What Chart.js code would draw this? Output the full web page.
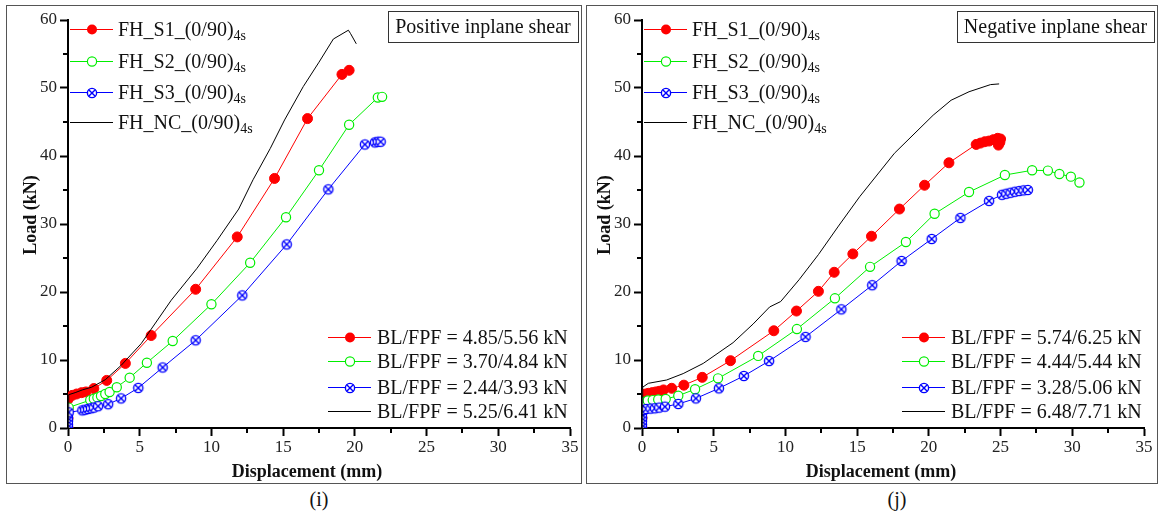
<!DOCTYPE html>
<html>
<head>
<meta charset="utf-8">
<script src="https://cdn.jsdelivr.net/npm/chart.js@4.4.1/dist/chart.umd.min.js"></script>
<style>
  body { margin: 0; background: #fff; width: 1158px; height: 519px; position: relative; overflow: hidden; font-family: "Liberation Serif", serif; }
  .panel { position: absolute; top: 5px; height: 477px; border: 1px solid #555; }
  #p1 { left: 6px; width: 574px; }
  #p2 { left: 586px; width: 570px; }
  .panel canvas { display: block; }
  .cap { position: absolute; top: 488px; width: 40px; text-align: center; font-size: 20px; color: #111; }
</style>
</head>
<body>
<div class="panel" id="p1"><canvas id="chartPos" width="574" height="477"></canvas></div>
<div class="panel" id="p2"><canvas id="chartNeg" width="570" height="477"></canvas></div>
<div class="cap" style="left:299px">(i)</div>
<div class="cap" style="left:877px">(j)</div>
<script>
// ---- data ----
const X_TICKS = [0, 5, 10, 15, 20, 25, 30, 35];
const Y_TICKS = [0, 10, 20, 30, 40, 50, 60];

const SERIES_NAMES = ["FH_S1_(0/90)", "FH_S2_(0/90)", "FH_S3_(0/90)", "FH_NC_(0/90)"];
const SERIES_SUB = "4s";
const POS_BL_LABELS = ["BL/FPF = 4.85/5.56 kN", "BL/FPF = 3.70/4.84 kN", "BL/FPF = 2.44/3.93 kN", "BL/FPF = 5.25/6.41 kN"];
const NEG_BL_LABELS = ["BL/FPF = 5.74/6.25 kN", "BL/FPF = 4.44/5.44 kN", "BL/FPF = 3.28/5.06 kN", "BL/FPF = 6.48/7.71 kN"];

// positive inplane shear
const POS_S1_X = [0, 0, 0, 0, 0.05, 0.3, 0.6, 0.95, 1.25, 1.8, 2.7, 4.0, 5.8, 8.9, 11.8, 14.4, 16.7, 19.1, 19.6];
const POS_S1_Y = [0, 1.4, 2.8, 4.2, 4.5, 4.8, 5.0, 5.2, 5.3, 5.8, 7.0, 9.5, 13.6, 20.4, 28.1, 36.7, 45.5, 52.0, 52.6];
const POS_S2_X = [0, 0, 0, 0.05, 1.55, 1.8, 2.05, 2.3, 2.6, 2.9, 3.4, 4.3, 5.5, 7.3, 10.0, 12.7, 15.2, 17.5, 19.6, 21.6, 21.9];
const POS_S2_Y = [0, 1.2, 2.3, 3.0, 4.1, 4.3, 4.5, 4.7, 5.0, 5.3, 6.0, 7.4, 9.6, 12.8, 18.2, 24.3, 31.0, 37.9, 44.6, 48.6, 48.7];
const POS_S3_X = [0, 0, 0, 0, 0, 0.05, 1.0, 1.2, 1.4, 1.6, 1.8, 2.1, 2.8, 3.7, 4.9, 6.6, 8.9, 12.15, 15.25, 18.15, 20.7, 21.4, 21.6, 21.8];
const POS_S3_Y = [0, 0.5, 1.0, 1.5, 2.0, 2.3, 2.6, 2.7, 2.8, 2.9, 3.0, 3.2, 3.5, 4.35, 5.9, 8.9, 12.9, 19.5, 27.0, 35.1, 41.7, 42.0, 42.1, 42.1];
const POS_NC_X = [0, 0.05, 0.5, 1.0, 1.65, 2.6, 3.7, 5.1, 7.2, 9.0, 10.4, 11.9, 12.9, 14.1, 15.1, 16.4, 17.5, 18.5, 19.55, 19.7, 20.1];
const POS_NC_Y = [0, 4.9, 5.2, 5.6, 6.0, 7.1, 9.2, 12.4, 18.8, 23.5, 27.6, 32.2, 36.5, 41.1, 45.3, 50.2, 53.8, 57.2, 58.5, 58.0, 56.5];

// negative inplane shear
const NEG_S1_X = [0, 0, 0, 0, 0.05, 0.25, 0.45, 0.7, 0.95, 1.2, 1.5, 2.07, 2.92, 4.2, 6.17, 9.19, 10.77, 12.3, 13.4, 14.7, 16.0, 17.95, 19.7, 21.4, 23.3, 23.6, 23.9, 24.2, 24.5, 24.8, 25.0, 24.95, 24.85];
const NEG_S1_Y = [0, 1.5, 3.0, 4.5, 4.9, 5.0, 5.1, 5.2, 5.3, 5.4, 5.6, 5.84, 6.3, 7.45, 9.9, 14.3, 17.2, 20.1, 22.9, 25.6, 28.2, 32.2, 35.7, 39.0, 41.7, 41.9, 42.1, 42.2, 42.4, 42.6, 42.5, 42.0, 41.6];
const NEG_S2_X = [0, 0, 0, 0, 0.4, 0.75, 1.13, 1.65, 2.53, 3.7, 5.3, 8.1, 10.8, 13.45, 15.9, 18.4, 20.4, 22.8, 25.3, 27.2, 28.3, 29.1, 29.9, 30.5];
const NEG_S2_Y = [0, 1.3, 2.6, 3.87, 4.05, 4.1, 4.2, 4.26, 4.75, 5.7, 7.3, 10.6, 14.55, 19.07, 23.7, 27.35, 31.5, 34.7, 37.2, 37.9, 37.85, 37.35, 36.96, 36.1];
const NEG_S3_X = [0, 0, 0, 0, 0, 0, 0.05, 0.3, 0.6, 0.9, 1.2, 1.6, 2.53, 3.76, 5.36, 7.1, 8.86, 11.4, 13.9, 16.05, 18.1, 20.2, 22.2, 24.2, 25.1, 25.4, 25.7, 26.0, 26.3, 26.6, 26.9];
const NEG_S3_Y = [0, 0.5, 1.0, 1.5, 2.0, 2.5, 2.65, 2.8, 2.85, 2.9, 3.0, 3.14, 3.53, 4.35, 5.83, 7.65, 9.85, 13.4, 17.45, 21.0, 24.56, 27.8, 30.9, 33.4, 34.3, 34.45, 34.6, 34.75, 34.85, 34.95, 35.0];
const NEG_NC_X = [0, 0.05, 0.44, 1.72, 2.87, 4.27, 6.35, 7.75, 8.9, 9.67, 10.95, 12.3, 13.7, 15.17, 17.6, 20.3, 21.55, 22.8, 24.3, 24.9];
const NEG_NC_Y = [0, 6.0, 6.57, 7.06, 8.0, 9.5, 12.55, 15.3, 17.8, 18.6, 21.8, 25.5, 29.7, 34.0, 40.4, 46.0, 48.2, 49.45, 50.5, 50.6];

const RED = "#ff0000";
const GREEN = "#00ee00";
const BLUE = "#0000ff";
const BLACK = "#000000";
const SERIF = '"Liberation Serif", "Times New Roman", serif';

// circle with an x inside, used for the S3 series
function crossCircle(color, r) {
  const c = document.createElement("canvas");
  const s = 2 * Math.ceil(r + 1.5);
  c.width = s;
  c.height = s;
  const g = c.getContext("2d");
  const m = s / 2;
  g.fillStyle = "#fff";
  g.strokeStyle = color;
  g.lineWidth = 1.4;
  g.beginPath();
  g.arc(m, m, r, 0, Math.PI * 2);
  g.fill();
  g.stroke();
  const d = r * Math.SQRT1_2;
  g.beginPath();
  g.moveTo(m - d, m - d);
  g.lineTo(m + d, m + d);
  g.moveTo(m + d, m - d);
  g.lineTo(m - d, m + d);
  g.stroke();
  return c;
}
const CROSS_IMG = crossCircle(BLUE, 4.6);

function pts(xs, ys) {
  return xs.map((x, i) => ({ x, y: ys[i] }));
}

function buildDatasets(s1x, s1y, s2x, s2y, s3x, s3y, ncx, ncy) {
  return [
    { data: pts(s1x, s1y), borderColor: RED, backgroundColor: RED, borderWidth: 1,
      pointStyle: "circle", pointRadius: 5, pointBackgroundColor: RED, pointBorderColor: RED, order: 3 },
    { data: pts(s2x, s2y), borderColor: GREEN, backgroundColor: GREEN, borderWidth: 1,
      pointStyle: "circle", pointRadius: 4.6, pointBackgroundColor: "#fff", pointBorderColor: GREEN, pointBorderWidth: 1.2, order: 2 },
    { data: pts(s3x, s3y), borderColor: BLUE, backgroundColor: BLUE, borderWidth: 1,
      pointStyle: CROSS_IMG, pointRadius: 5, order: 1 },
    { data: pts(ncx, ncy), borderColor: BLACK, borderWidth: 1, pointRadius: 0, order: 0 },
  ];
}

function drawMarker(ctx, kind, x, y) {
  ctx.save();
  if (kind === 0) {
    ctx.fillStyle = RED;
    ctx.beginPath(); ctx.arc(x, y, 5, 0, Math.PI * 2); ctx.fill();
  } else if (kind === 1) {
    ctx.fillStyle = "#fff"; ctx.strokeStyle = GREEN; ctx.lineWidth = 1.2;
    ctx.beginPath(); ctx.arc(x, y, 4.6, 0, Math.PI * 2); ctx.fill(); ctx.stroke();
  } else if (kind === 2) {
    ctx.drawImage(CROSS_IMG, Math.round(x - CROSS_IMG.width / 2), Math.round(y - CROSS_IMG.height / 2));
  }
  ctx.restore();
}

const COLORS = [RED, GREEN, BLUE, BLACK];

// minor ticks, axis titles, both legends and the label box
const decorPlugin = {
  id: "panelDecor",
  afterDraw(chart, args, opts) {
    const { ctx, chartArea } = chart;
    const xs = chart.scales.x;
    const ys = chart.scales.y;
    ctx.save();

    // minor ticks
    ctx.strokeStyle = "#000";
    ctx.lineWidth = 2;
    ctx.beginPath();
    for (let v = 2.5; v < 35; v += 5) {
      const px = Math.round(xs.getPixelForValue(v));
      ctx.moveTo(px, chartArea.bottom);
      ctx.lineTo(px, chartArea.bottom + 5);
    }
    for (let v = 5; v < 60; v += 10) {
      const py = Math.round(ys.getPixelForValue(v));
      ctx.moveTo(chartArea.left, py);
      ctx.lineTo(chartArea.left - 5, py);
    }
    ctx.stroke();

    // axis titles
    ctx.fillStyle = "#111";
    ctx.font = "bold 18px " + SERIF;
    ctx.textAlign = "center";
    ctx.textBaseline = "middle";
    ctx.fillText("Displacement (mm)", (chartArea.left + chartArea.right) / 2 - 12, chartArea.bottom + 44);
    ctx.save();
    ctx.translate(chartArea.left - 37, (chartArea.top + chartArea.bottom) / 2 - 9);
    ctx.rotate(-Math.PI / 2);
    ctx.fillText("Load (kN)", 0, 0);
    ctx.restore();

    // top-left legend
    const topRows = [9, 41, 72, 102];
    ctx.textAlign = "left";
    ctx.textBaseline = "alphabetic";
    for (let i = 0; i < 4; i++) {
      const y = chartArea.top + topRows[i];
      const x0 = chartArea.left + 2;
      ctx.strokeStyle = COLORS[i];
      ctx.lineWidth = 1;
      ctx.beginPath(); ctx.moveTo(x0, y + 0.5); ctx.lineTo(x0 + 43, y + 0.5); ctx.stroke();
      drawMarker(ctx, i, x0 + 22, y + 0.5);
      ctx.fillStyle = "#111";
      ctx.font = "20px " + SERIF;
      ctx.fillText(SERIES_NAMES[i], x0 + 48, y + 7);
      const w = ctx.measureText(SERIES_NAMES[i]).width;
      ctx.font = "14px " + SERIF;
      ctx.fillText(SERIES_SUB, x0 + 48 + w, y + 11);
    }

    // bottom-right legend
    const botRows = [91, 67, 41, 17];
    for (let i = 0; i < 4; i++) {
      const y = chartArea.bottom - botRows[i];
      const x0 = chartArea.left + 260;
      ctx.strokeStyle = COLORS[i];
      ctx.lineWidth = 1;
      ctx.beginPath(); ctx.moveTo(x0, y + 0.5); ctx.lineTo(x0 + 43, y + 0.5); ctx.stroke();
      drawMarker(ctx, i, x0 + 22, y + 0.5);
      ctx.fillStyle = "#111";
      ctx.font = "20px " + SERIF;
      ctx.fillText(opts.blLabels[i], x0 + 49, y + 7);
    }

    // label box top right
    ctx.font = "20px " + SERIF;
    const tw = ctx.measureText(opts.boxText).width;
    const bw = Math.round(tw + 14);
    const bx = chart.width - 3 - bw;
    ctx.fillStyle = "#fff";
    ctx.fillRect(bx + 0.5, 5.5, bw, 31);
    ctx.strokeStyle = "#333";
    ctx.lineWidth = 1;
    ctx.strokeRect(bx + 0.5, 5.5, bw, 31);
    ctx.fillStyle = "#111";
    ctx.textAlign = "center";
    ctx.textBaseline = "middle";
    ctx.fillText(opts.boxText, bx + bw / 2, 22);

    ctx.restore();
  },
};

function makeChart(id, datasets, yWidth, rightPad, blLabels, boxText) {
  return new Chart(document.getElementById(id), {
    type: "scatter",
    data: { datasets },
    plugins: [decorPlugin],
    options: {
      responsive: false,
      animation: false,
      showLine: true,
      layout: { padding: { top: 14, right: rightPad, left: 0, bottom: 0 } },
      elements: { line: { tension: 0 } },
      scales: {
        x: {
          type: "linear",
          min: 0,
          max: 35,
          afterFit: (s) => { s.height = 55; },
          afterBuildTicks: (s) => { s.ticks = X_TICKS.map((v) => ({ value: v })); },
          ticks: { color: "#222", font: { family: SERIF, size: 17 }, padding: 1, maxRotation: 0 },
          grid: { drawOnChartArea: false, drawTicks: true, tickLength: 8, tickWidth: 2, tickColor: "#000" },
          border: { color: "#000", width: 2 },
        },
        y: {
          min: 0,
          max: 60,
          afterFit: (s) => { s.width = yWidth; },
          afterBuildTicks: (s) => { s.ticks = Y_TICKS.map((v) => ({ value: v })); },
          ticks: { color: "#222", font: { family: SERIF, size: 17 }, padding: 3 },
          grid: { drawOnChartArea: false, drawTicks: true, tickLength: 8, tickWidth: 2, tickColor: "#000" },
          border: { color: "#000", width: 2 },
        },
      },
      plugins: {
        legend: { display: false },
        tooltip: { enabled: false },
        panelDecor: { blLabels, boxText },
      },
    },
  });
}

makeChart("chartPos",
  buildDatasets(POS_S1_X, POS_S1_Y, POS_S2_X, POS_S2_Y, POS_S3_X, POS_S3_Y, POS_NC_X, POS_NC_Y),
  61, 11, POS_BL_LABELS, "Positive inplane shear");
makeChart("chartNeg",
  buildDatasets(NEG_S1_X, NEG_S1_Y, NEG_S2_X, NEG_S2_Y, NEG_S3_X, NEG_S3_Y, NEG_NC_X, NEG_NC_Y),
  55, 13, NEG_BL_LABELS, "Negative inplane shear");
</script>
</body>
</html>
